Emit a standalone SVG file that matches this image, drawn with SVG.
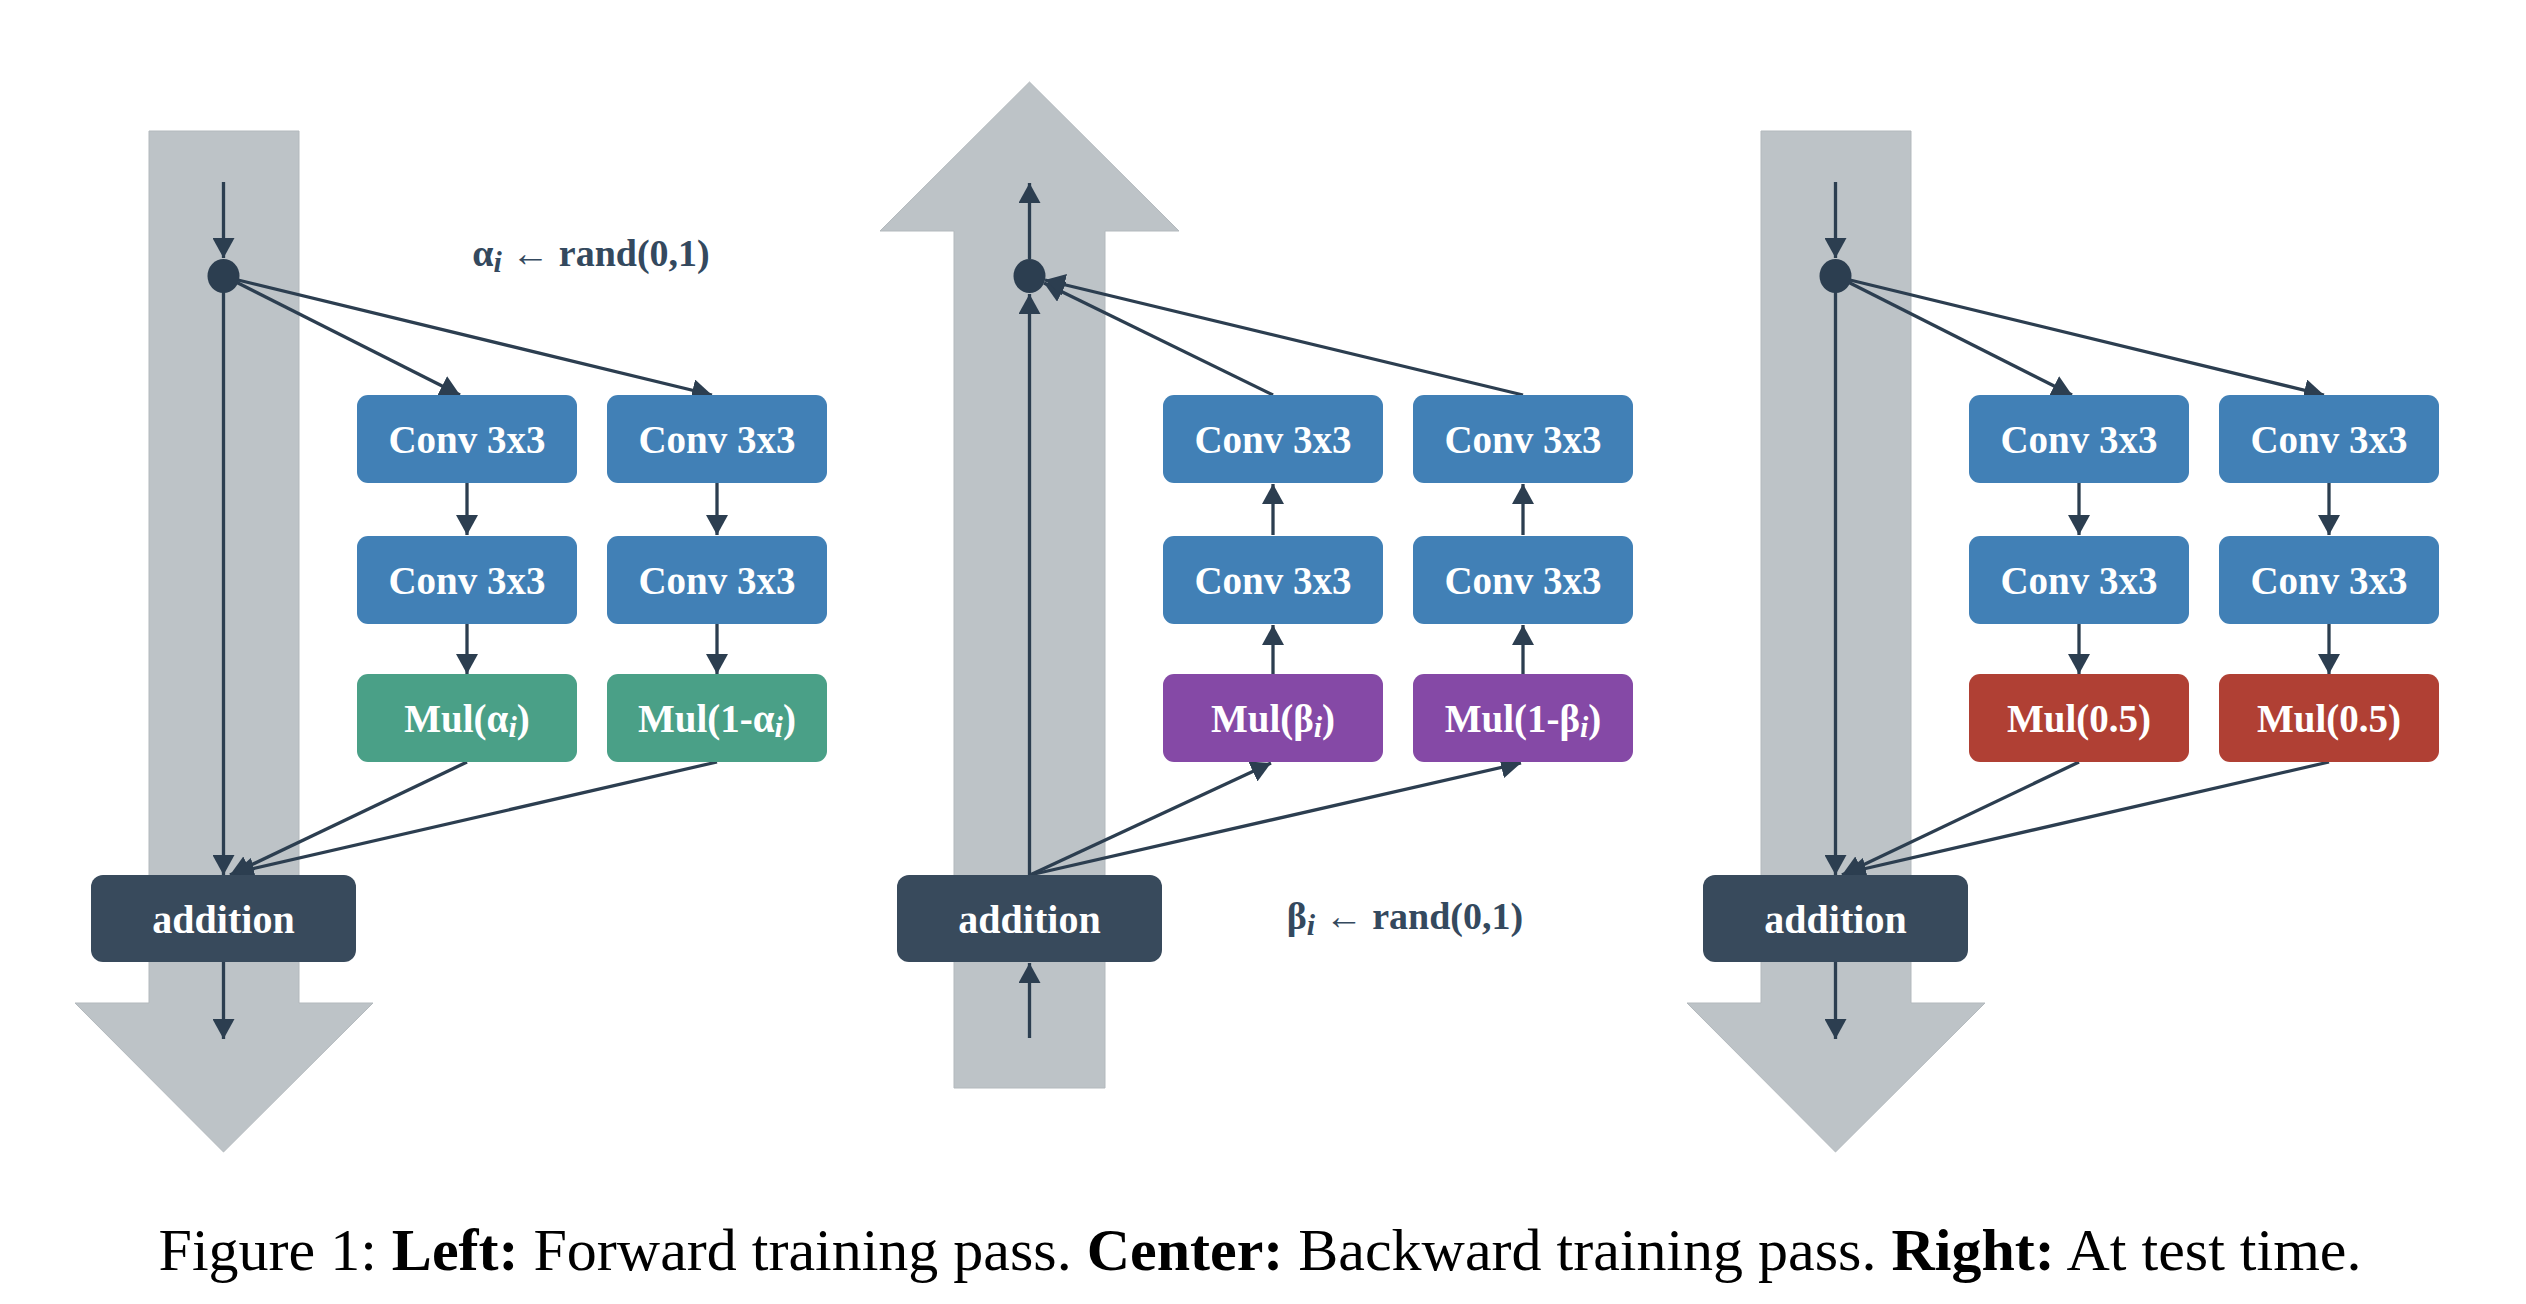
<svg xmlns="http://www.w3.org/2000/svg" width="2526" height="1304" viewBox="0 0 2526 1304">
<style>
.flow{fill:#bdc3c7;stroke:#b3b9bd;stroke-width:1}
.box{stroke:none}
.conv{fill:#4180b6}
.mulg{fill:#4aa087}
.mulp{fill:#8549a6}
.mulr{fill:#b04034}
.add{fill:#384a5c}
.bt{font-family:"Liberation Serif","Times New Roman",serif;font-weight:bold;font-size:39px;fill:#ffffff;text-anchor:middle}
.lbl{font-family:"Liberation Serif","Times New Roman",serif;font-weight:bold;font-size:38px;fill:#34495e;text-anchor:middle}
.cap{font-family:"Liberation Serif","Times New Roman",serif;font-size:60px;fill:#000000;text-anchor:middle}
.e{stroke:#2c3e50;stroke-width:3.3;fill:none;marker-end:url(#ah)}
.dot{fill:#2c3e50}
.sub{font-style:italic;font-size:30px}
</style>
<defs>
<marker id="ah" markerUnits="userSpaceOnUse" markerWidth="22" markerHeight="22" refX="20" refY="11" orient="auto" viewBox="0 0 22 22">
<path d="M0,0 L20,11 L0,22 z" fill="#2c3e50"/>
</marker>
</defs>

<g id="flow-arrows">
<polygon id="flow-left" class="flow" points="149,131 299,131 299,1003 373,1003 223.5,1152 75,1003 149,1003"/>
<polygon id="flow-center" class="flow" points="954,1088 1105,1088 1105,231 1179,231 1029.5,82 880,231 954,231"/>
<polygon id="flow-right" class="flow" points="1761,131 1911,131 1911,1003 1985,1003 1835.5,1152 1687,1003 1761,1003"/>
</g>

<g id="connectors">
<!-- left -->
<line class="e" x1="223.5" y1="182" x2="223.5" y2="258"/>
<line class="e" x1="223.5" y1="292" x2="223.5" y2="875"/>
<line class="e" x1="236" y1="282" x2="460" y2="395"/>
<line class="e" x1="238" y1="280" x2="712" y2="395"/>
<line class="e" x1="467" y1="483" x2="467" y2="535"/>
<line class="e" x1="717" y1="483" x2="717" y2="535"/>
<line class="e" x1="467" y1="624" x2="467" y2="674"/>
<line class="e" x1="717" y1="624" x2="717" y2="674"/>
<line class="e" x1="467" y1="762" x2="230" y2="875"/>
<line class="e" x1="717" y1="762" x2="234" y2="873"/>
<line class="e" x1="223.5" y1="962" x2="223.5" y2="1039"/>
<!-- center -->
<line class="e" x1="1029.5" y1="1038" x2="1029.5" y2="963"/>
<line class="e" x1="1029.5" y1="875" x2="1029.5" y2="294"/>
<line class="e" x1="1029.5" y1="259" x2="1029.5" y2="183"/>
<line class="e" x1="1273" y1="395" x2="1044" y2="283"/>
<line class="e" x1="1523" y1="395" x2="1045" y2="280"/>
<line class="e" x1="1273" y1="535" x2="1273" y2="484"/>
<line class="e" x1="1523" y1="535" x2="1523" y2="484"/>
<line class="e" x1="1273" y1="674" x2="1273" y2="625"/>
<line class="e" x1="1523" y1="674" x2="1523" y2="625"/>
<line class="e" x1="1030" y1="875" x2="1271" y2="763"/>
<line class="e" x1="1030" y1="875" x2="1521" y2="763"/>
<!-- right -->
<line class="e" x1="1835.5" y1="182" x2="1835.5" y2="258"/>
<line class="e" x1="1835.5" y1="292" x2="1835.5" y2="875"/>
<line class="e" x1="1848" y1="282" x2="2072" y2="395"/>
<line class="e" x1="1850" y1="280" x2="2324" y2="395"/>
<line class="e" x1="2079" y1="483" x2="2079" y2="535"/>
<line class="e" x1="2329" y1="483" x2="2329" y2="535"/>
<line class="e" x1="2079" y1="624" x2="2079" y2="674"/>
<line class="e" x1="2329" y1="624" x2="2329" y2="674"/>
<line class="e" x1="2079" y1="762" x2="1842" y2="875"/>
<line class="e" x1="2329" y1="762" x2="1846" y2="873"/>
<line class="e" x1="1835.5" y1="962" x2="1835.5" y2="1039"/>
</g>

<!-- left panel nodes -->
<g id="left-split"><ellipse class="dot" cx="223.5" cy="276" rx="16" ry="17"/></g>
<g id="left-conv1a"><rect class="box conv" x="357" y="395" width="220" height="88" rx="11"/><text class="bt" x="467" y="453">Conv 3x3</text></g>
<g id="left-conv1b"><rect class="box conv" x="607" y="395" width="220" height="88" rx="11"/><text class="bt" x="717" y="453">Conv 3x3</text></g>
<g id="left-conv2a"><rect class="box conv" x="357" y="536" width="220" height="88" rx="11"/><text class="bt" x="467" y="594">Conv 3x3</text></g>
<g id="left-conv2b"><rect class="box conv" x="607" y="536" width="220" height="88" rx="11"/><text class="bt" x="717" y="594">Conv 3x3</text></g>
<g id="left-mula"><rect class="box mulg" x="357" y="674" width="220" height="88" rx="11"/><text class="bt" x="467" y="732">Mul(α<tspan class="sub" dy="5">i</tspan><tspan dy="-5">)</tspan></text></g>
<g id="left-mulb"><rect class="box mulg" x="607" y="674" width="220" height="88" rx="11"/><text class="bt" x="717" y="732">Mul(1-α<tspan class="sub" dy="5">i</tspan><tspan dy="-5">)</tspan></text></g>
<g id="left-addition"><rect class="box add" x="91" y="875" width="265" height="87" rx="12"/><text class="bt" x="223.5" y="933" style="font-size:40px">addition</text></g>
<g id="left-label"><text class="lbl" x="591" y="266">α<tspan class="sub" dy="6">i</tspan><tspan dy="-6"> ← rand(0,1)</tspan></text></g>

<!-- center panel nodes -->
<g id="center-join"><ellipse class="dot" cx="1029.5" cy="276" rx="16" ry="17"/></g>
<g id="center-conv1a"><rect class="box conv" x="1163" y="395" width="220" height="88" rx="11"/><text class="bt" x="1273" y="453">Conv 3x3</text></g>
<g id="center-conv1b"><rect class="box conv" x="1413" y="395" width="220" height="88" rx="11"/><text class="bt" x="1523" y="453">Conv 3x3</text></g>
<g id="center-conv2a"><rect class="box conv" x="1163" y="536" width="220" height="88" rx="11"/><text class="bt" x="1273" y="594">Conv 3x3</text></g>
<g id="center-conv2b"><rect class="box conv" x="1413" y="536" width="220" height="88" rx="11"/><text class="bt" x="1523" y="594">Conv 3x3</text></g>
<g id="center-mula"><rect class="box mulp" x="1163" y="674" width="220" height="88" rx="11"/><text class="bt" x="1273" y="732">Mul(β<tspan class="sub" dy="5">i</tspan><tspan dy="-5">)</tspan></text></g>
<g id="center-mulb"><rect class="box mulp" x="1413" y="674" width="220" height="88" rx="11"/><text class="bt" x="1523" y="732">Mul(1-β<tspan class="sub" dy="5">i</tspan><tspan dy="-5">)</tspan></text></g>
<g id="center-addition"><rect class="box add" x="897" y="875" width="265" height="87" rx="12"/><text class="bt" x="1029.5" y="933" style="font-size:40px">addition</text></g>
<g id="center-label"><text class="lbl" x="1405" y="929">β<tspan class="sub" dy="6">i</tspan><tspan dy="-6"> ← rand(0,1)</tspan></text></g>

<!-- right panel nodes -->
<g id="right-split"><ellipse class="dot" cx="1835.5" cy="276" rx="16" ry="17"/></g>
<g id="right-conv1a"><rect class="box conv" x="1969" y="395" width="220" height="88" rx="11"/><text class="bt" x="2079" y="453">Conv 3x3</text></g>
<g id="right-conv1b"><rect class="box conv" x="2219" y="395" width="220" height="88" rx="11"/><text class="bt" x="2329" y="453">Conv 3x3</text></g>
<g id="right-conv2a"><rect class="box conv" x="1969" y="536" width="220" height="88" rx="11"/><text class="bt" x="2079" y="594">Conv 3x3</text></g>
<g id="right-conv2b"><rect class="box conv" x="2219" y="536" width="220" height="88" rx="11"/><text class="bt" x="2329" y="594">Conv 3x3</text></g>
<g id="right-mula"><rect class="box mulr" x="1969" y="674" width="220" height="88" rx="11"/><text class="bt" x="2079" y="732">Mul(0.5)</text></g>
<g id="right-mulb"><rect class="box mulr" x="2219" y="674" width="220" height="88" rx="11"/><text class="bt" x="2329" y="732">Mul(0.5)</text></g>
<g id="right-addition"><rect class="box add" x="1703" y="875" width="265" height="87" rx="12"/><text class="bt" x="1835.5" y="933" style="font-size:40px">addition</text></g>

<g id="caption"><text class="cap" x="1260" y="1270">Figure 1: <tspan font-weight="bold">Left:</tspan> Forward training pass. <tspan font-weight="bold">Center:</tspan> Backward training pass. <tspan font-weight="bold">Right:</tspan> At test time.</text></g>
</svg>
